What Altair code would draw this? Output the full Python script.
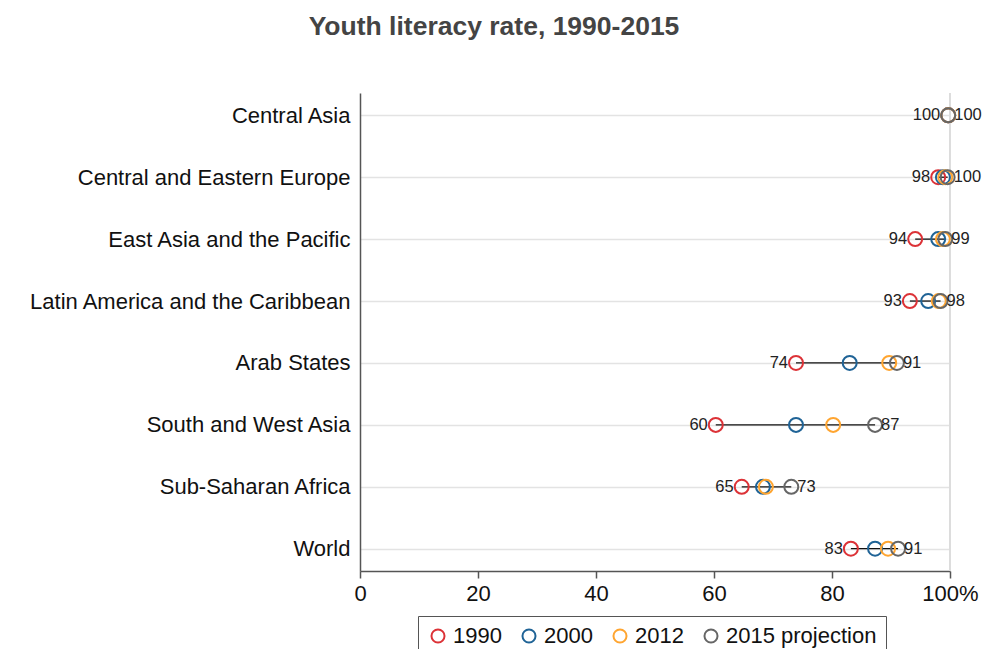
import altair as alt
import pandas as pd

regions = [
    "Central Asia",
    "Central and Eastern Europe",
    "East Asia and the Pacific",
    "Latin America and the Caribbean",
    "Arab States",
    "South and West Asia",
    "Sub-Saharan Africa",
    "World",
]
v1990 = [99.7, 98.0, 94.1, 93.2, 73.9, 60.3, 64.7, 83.2]
v2000 = [99.7, 98.8, 98.0, 96.3, 83.0, 73.9, 68.3, 87.3]
v2012 = [99.7, 99.2, 98.8, 98.1, 89.7, 80.2, 68.8, 89.5]
v2015 = [99.7, 99.6, 99.2, 98.4, 91.0, 87.3, 73.1, 91.2]

series = ["1990", "2000", "2012", "2015 projection"]
colors = ["#dc3237", "#1f6396", "#ffa530", "#666666"]

FONT = "Liberation Sans"

wide = pd.DataFrame({"region": regions, "v1990": v1990, "v2000": v2000,
                     "v2012": v2012, "v2015": v2015})
rows = []
for s, col in zip(series, [v1990, v2000, v2012, v2015]):
    for r, v in zip(regions, col):
        rows.append({"region": r, "series": s, "value": v})
long = pd.DataFrame(rows)

yenc = alt.Y("region:N", sort=regions,
             scale=alt.Scale(type="point", padding=0.36),
             axis=alt.Axis(title=None, ticks=False, labelFontSize=22, labelFont=FONT,
                           labelColor="#111111", labelPadding=10, labelLimit=500,
                           grid=True, gridColor="#e3e3e3", gridWidth=1.6,
                           domainColor="#555555", domainWidth=1.5))
xscale = alt.Scale(domain=[0, 100], nice=False)
xaxis = alt.Axis(title=None, values=[0, 20, 40, 60, 80, 100], grid=False,
                 labelFontSize=22, labelFont=FONT, labelColor="#111111",
                 labelFlush=False, labelOverlap=False,
                 labelExpr="datum.value == 100 ? '100%' : datum.label",
                 tickSize=7, tickColor="#555555", tickWidth=1.5,
                 domainColor="#555555", domainWidth=1.5, labelPadding=5)

base = alt.Chart(wide)

vline = base.mark_rule(color="#dddddd", strokeWidth=1.6).encode(
    x=alt.datum(100, scale=xscale, axis=xaxis)
)

rng = base.mark_rule(color="#111111", strokeWidth=1.3).encode(
    x=alt.X("v1990:Q", scale=xscale, axis=xaxis),
    x2="v2015:Q",
    y=yenc,
)

pts = alt.Chart(long).mark_point(filled=False, shape="circle", size=196,
                                 strokeWidth=2, opacity=1).encode(
    x=alt.X("value:Q", scale=xscale, axis=xaxis),
    y=yenc,
    color=alt.Color("series:N",
                    scale=alt.Scale(domain=series, range=colors),
                    legend=alt.Legend(title=None, orient="none", direction="horizontal",
                                      legendX=58, legendY=523,
                                      symbolType="circle", symbolSize=170,
                                      symbolStrokeWidth=2, symbolFillColor="white",
                                      labelFontSize=22, labelFont=FONT, labelColor="#111111",
                                      labelOffset=4, columnPadding=16,
                                      padding=9, strokeColor="#555555",
                                      fillColor="white")),
    order=alt.Order("series:N"),
)

left_lbl = base.mark_text(align="right", baseline="middle", dx=-8, fontSize=16.5,
                          font=FONT, color="#222222").encode(
    x=alt.X("v1990:Q", scale=xscale, axis=xaxis),
    y=yenc,
    text=alt.Text("v1990:Q", format=".0f"),
)
right_lbl = base.mark_text(align="left", baseline="middle", dx=6, fontSize=16.5,
                           font=FONT, color="#222222").encode(
    x=alt.X("v2015:Q", scale=xscale, axis=xaxis),
    y=yenc,
    text=alt.Text("v2015:Q", format=".0f"),
)

chart = alt.layer(vline, rng, pts, left_lbl, right_lbl).properties(
    width=590, height=478,
    autosize=alt.AutoSizeParams(type="none"),
    padding={"left": 352, "top": 85, "right": 32, "bottom": 78},
    title=alt.TitleParams("Youth literacy rate, 1990-2015", fontSize=26.5, font=FONT,
                          fontWeight="bold", color="#444444", anchor="middle",
                          dx=-161, offset=52),
).configure_view(stroke=None)

chart.save("out.html", embed_options={"renderer": "svg", "actions": False})
